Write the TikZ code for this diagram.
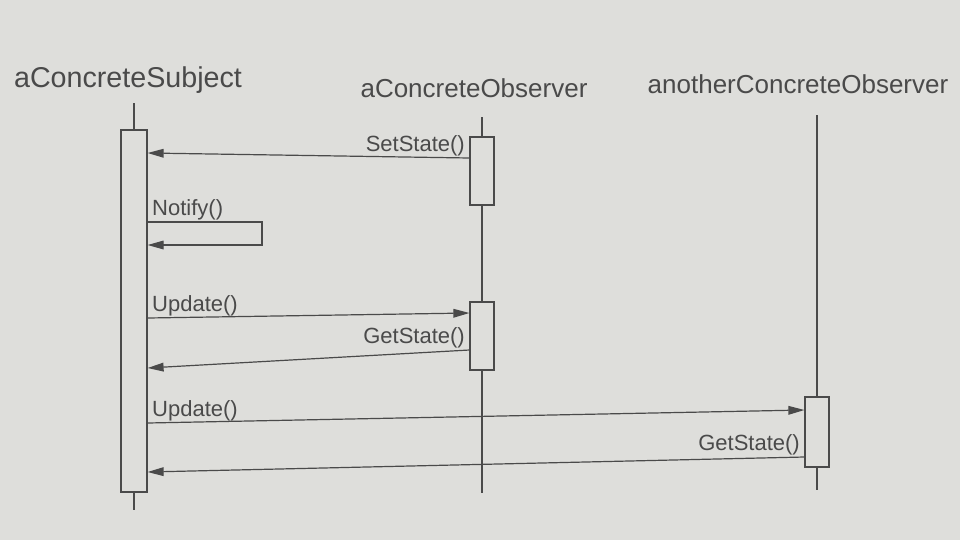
\documentclass[tikz,border=0pt]{standalone}
\usepackage{fontspec}
\setmainfont{Liberation Sans}
\usetikzlibrary{arrows.meta}

\definecolor{paper}{RGB}{222,222,219}
\definecolor{ink}{RGB}{74,74,74}

\tikzset{
  actbox/.style={draw=ink, fill=paper, line width=0.9pt, minimum width=18pt, inner sep=0pt},
  lifeline/.style={draw=ink, line width=0.9pt},
  msg/.style={draw=ink, line width=0.9pt, -{Triangle[length=12pt,width=6.5pt]}},
  msglabel/.style={text=ink, font=\fontsize{16.5}{19}\selectfont, inner xsep=3pt, inner ysep=1.5pt, yshift=-0.5pt},
  objname/.style={text=ink, font=\fontsize{19.5}{22}\selectfont, inner sep=0pt}
}

\begin{document}
\begin{tikzpicture}[x=0.75pt,y=0.75pt,yscale=-1,xscale=1]
% paper
\fill[paper] (0,0) rectangle (960,540);
\useasboundingbox (0,0) rectangle (960,540);

% object names
\node[objname, font=\fontsize{21.5}{24}\selectfont] (subjName) at (128,80) {aConcreteSubject};
\node[objname] (obsName) at (474,88) {aConcreteObserver};
\node[objname] (anoName) at (798,84) {anotherConcreteObserver};

% lifeline ends
\coordinate (subjTop) at (134,103);
\coordinate (subjBot) at (134,510);
\coordinate (obsTop) at (482,117);
\coordinate (obsBot) at (482,493);
\coordinate (anoTop) at (817,115);
\coordinate (anoBot) at (817,490);

% activation bars
\node[actbox, minimum width=19.5pt, minimum height=271.5pt] (subj) at (134,311) {};
\node[actbox, minimum height=51pt] (obsAct1) at (482,171) {};
\node[actbox, minimum height=51pt] (obsAct2) at (482,336) {};
\node[actbox, minimum height=52.5pt] (anoAct) at (817,432) {};

% lifelines
\draw[lifeline] (subjTop) -- (subj.north);
\draw[lifeline] (subj.south) -- (subjBot);
\draw[lifeline] (obsTop) -- (obsAct1.north);
\draw[lifeline] (obsAct1.south) -- (obsAct2.north);
\draw[lifeline] (obsAct2.south) -- (obsBot);
\draw[lifeline] (anoTop) -- (anoAct.north);
\draw[lifeline] (anoAct.south) -- (anoBot);

% messages
\draw[msg] (obsAct1.west |- 0,158) -- node[msglabel, pos=0, anchor=south east] {SetState()} (subj.east |- 0,153);
\draw[msg] (subj.east |- 0,222) -- node[msglabel, pos=0, anchor=south west] {Notify()} (262,222) -- (262,245) -- (subj.east |- 0,245);
\draw[msg] (subj.east |- 0,318) -- node[msglabel, pos=0, anchor=south west] {Update()} (obsAct2.west |- 0,313);
\draw[msg] (obsAct2.west |- 0,350) -- node[msglabel, pos=0, anchor=south east] {GetState()} (subj.east |- 0,368);
\draw[msg] (subj.east |- 0,423) -- node[msglabel, pos=0, anchor=south west] {Update()} (anoAct.west |- 0,410);
\draw[msg] (anoAct.west |- 0,457) -- node[msglabel, pos=0, anchor=south east] {GetState()} (subj.east |- 0,472);

\end{tikzpicture}
\end{document}
